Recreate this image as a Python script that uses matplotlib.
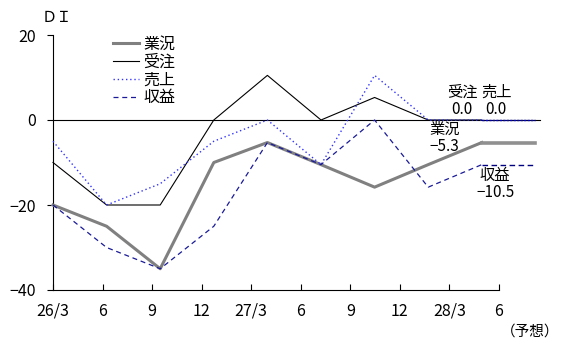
import numpy as np
import matplotlib
matplotlib.use('Agg')
import matplotlib.pyplot as plt

plt.rcParams['font.family'] = ['Noto Sans CJK JP', 'DejaVu Sans']
plt.rcParams['font.size'] = 11

periods = ['26/3', '6', '9', '12', '27/3', '6', '9', '12', '28/3', '6']
gyokyo = [-20, -25, -35, -10, -5.3, -10.5, -15.8, -10.5, -5.3, -5.3]   # 業況
juchu = [-10, -20, -20, 0, 10.5, 0, 5.3, 0, 0, 0]                     # 受注
uriage = [-5, -20, -15, -5, 0, -10.5, 10.5, 0, 0, 0]                  # 売上
shueki = [-20, -30, -35, -25, -5.3, -10.5, 0, -15.8, -10.5, -10.5]    # 収益

fig = plt.figure(figsize=(5.61, 3.43), dpi=100)
ax = fig.add_axes([53/561, 1-290/343, 446/561, 255/343])

ax.set_xlim(0, 9)
ax.set_ylim(-40, 20)
ax.set_xticks(range(len(periods)))
ax.set_xticklabels(periods)
ax.set_yticks([-40, -20, 0, 20])
for s in ['top', 'right']:
    ax.spines[s].set_visible(False)
ax.tick_params(axis='x', direction='in', length=4, pad=9, labelsize=11.5)
ax.tick_params(axis='y', direction='out', length=4, pad=8, labelsize=11.5)
ax.text(9.62, -0.165, '（予想）', transform=ax.get_xaxis_transform(),
        ha='center', va='center', fontsize=10.5)
fig.text(57/561, 1-18/343, 'ＤＩ', ha='center', va='center')

# data is laid out on its own x scale, wider than the period ticks
axd = ax.twiny()
axd.set_xlim(0, 446/53.6)
axd.set_xticks([])
for s in axd.spines.values():
    s.set_visible(False)

x = np.arange(len(periods))
axd.axhline(0, xmin=0, xmax=487/446, color='black', lw=0.8, clip_on=False)

l1, = axd.plot(x[:-1], gyokyo[:-1], color='#808080', lw=2.2, clip_on=False, label='業況')
l2, = axd.plot(x[:-1], juchu[:-1], color='black', lw=0.8, clip_on=False, label='受注')
l3, = axd.plot(x[:-1], uriage[:-1], color='#3333ff', lw=1.0, ls=(0, (1, 2)), clip_on=False, label='売上')
l4, = axd.plot(x[:-1], shueki[:-1], color='#1a1a99', lw=0.9, ls=(0, (4, 3)), clip_on=False, label='収益')

# forecast segment
axd.plot(x[-2:], gyokyo[-2:], color='#909090', lw=2.6, clip_on=False)
axd.plot(x[-2:], juchu[-2:], color='black', lw=0.8, clip_on=False)
axd.plot(x[-2:], uriage[-2:], color='#0000cc', lw=1.0, ls=(0, (1.5, 1)), clip_on=False)
axd.plot(x[-2:], shueki[-2:], color='#000080', lw=1.0, ls=(0, (4, 2.5)), clip_on=False)

fig.legend(handles=[l1, l2, l3, l4], loc='upper left',
           bbox_to_anchor=(113/561, 1-36/343), frameon=False, fontsize=11.5,
           handlelength=1.6, handletextpad=0.3, labelspacing=0.05,
           borderpad=0, borderaxespad=0)

# latest values
axd.text(7.63, 0.4, '受注\n0.0', ha='center', va='bottom', linespacing=1.05)
axd.text(8.27, 0.4, '売上\n0.0', ha='center', va='bottom', linespacing=1.05)
axd.text(7.03, -0.3, '業況\n−5.3', ha='left', va='top', linespacing=1.0)
axd.text(8.25, -11.0, '収益\n−10.5', ha='center', va='top', linespacing=1.0)

fig.savefig('out.png', dpi=100)
